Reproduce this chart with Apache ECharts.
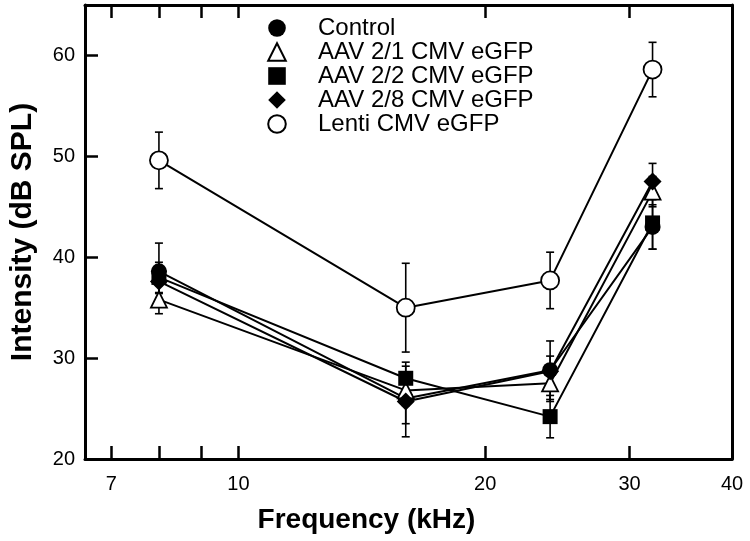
<!DOCTYPE html>
<html>
<head>
<meta charset="utf-8">
<script src="https://cdn.jsdelivr.net/npm/echarts@6/dist/echarts.min.js"></script>
<style>
html,body{margin:0;padding:0;background:#fff;}
#chart{width:750px;height:541px;}
</style>
</head>
<body>
<div id="chart"></div>
<script>
// ---- data ----
const frequencies = [8, 16, 24, 32];            // kHz
const xTickValues = [7, 8, 9, 10, 20, 30, 40];
const xLabelValues = [7, 10, 20, 30, 40];
const yLabelValues = [20, 30, 40, 50, 60];

const seriesNames = ['Control', 'AAV 2/1 CMV eGFP', 'AAV 2/2 CMV eGFP', 'AAV 2/8 CMV eGFP', 'Lenti CMV eGFP'];
const control = [38.6, 26.0, 28.8, 43.0];
const aav21   = [35.8, 26.8, 27.5, 46.5];
const aav22   = [38.0, 28.0, 24.2, 43.4];
const aav28   = [37.6, 25.7, 28.7, 47.5];
const lenti   = [49.6, 35.0, 37.7, 58.6];

const controlErr = [2.8, 2.5, 2.9, 2.2];
const aav21Err   = [1.4, 1.5, 1.8, 1.5];
const aav22Err   = [1.5, 1.6, 2.1, 2.6];
const aav28Err   = [1.2, 3.5, 1.5, 1.8];
const lentiErr   = [2.8, 4.4, 2.8, 2.7];

// ---- build ----
const lg = v => Math.log10(v);
const values = [control, aav21, aav22, aav28, lenti];
const errors = [controlErr, aav21Err, aav22Err, aav28Err, lentiErr];
const symbols = ['circle', 'triangle', 'rect', 'diamond', 'circle'];
const sizes = [16, 16, 15, 18, 18];
const fills = ['#000', '#fff', '#000', '#000', '#fff'];

const FONT = '"Liberation Sans", Arial, Helvetica, sans-serif';

function errRender(params, api) {
  const x = api.value(0), lo = api.value(1), hi = api.value(2);
  const a = api.coord([x, lo]), b = api.coord([x, hi]);
  const c = 4;
  const st = {stroke: '#000', lineWidth: 1.6};
  return {type: 'group', children: [
    {type: 'line', shape: {x1: b[0], y1: b[1], x2: a[0], y2: a[1]}, style: st},
    {type: 'line', shape: {x1: b[0]-c, y1: b[1], x2: b[0]+c, y2: b[1]}, style: st},
    {type: 'line', shape: {x1: a[0]-c, y1: a[1], x2: a[0]+c, y2: a[1]}, style: st}
  ]};
}

const series = [];
values.forEach((vals, i) => {
  series.push({
    name: 'err' + i,
    type: 'custom',
    renderItem: errRender,
    encode: {x: 0, y: [1, 2]},
    data: frequencies.map((f, j) => [lg(f), vals[j] - errors[i][j], vals[j] + errors[i][j]]),
    z: 1,
    silent: true
  });
});
values.forEach((vals, i) => {
  series.push({
    name: seriesNames[i],
    type: 'line',
    data: frequencies.map((f, j) => [lg(f), vals[j]]),
    symbol: symbols[i],
    symbolSize: sizes[i],
    showAllSymbol: true,
    lineStyle: {color: '#000', width: 2},
    itemStyle: {color: fills[i], borderColor: '#000', borderWidth: fills[i] === '#fff' ? 1.8 : 0},
    z: 3,
    animation: false
  });
});

const xCommon = {
  type: 'value',
  min: lg(6.5),
  max: lg(40),
  splitLine: {show: false},
  axisLine: {show: true, onZero: false, lineStyle: {color: '#000', width: 3}},
  axisTick: {show: true, inside: true, length: 13, lineStyle: {color: '#000', width: 2.5}, customValues: xTickValues.map(lg)}
};

const chart = echarts.init(document.getElementById('chart'), null, {renderer: 'canvas'});
chart.setOption({
  animation: false,
  backgroundColor: '#fff',
  grid: {left: 85, right: 18, top: 5, bottom: 82, containLabel: false},
  legend: {
    orient: 'vertical',
    left: 235,
    top: 11,
    itemWidth: 72,
    itemHeight: 22,
    itemGap: 0,
    data: seriesNames,
    lineStyle: {opacity: 0},
    textStyle: {fontFamily: FONT, fontSize: 24, color: '#000'},
    selectedMode: false
  },
  xAxis: [
    Object.assign({}, xCommon, {
      position: 'bottom',
      name: 'Frequency (kHz)',
      nameLocation: 'middle',
      nameGap: 47,
      nameTextStyle: {fontFamily: FONT, fontSize: 28, fontWeight: 'bold', color: '#000', padding: [0, 84, 0, 0]},
      axisLabel: {show: true, margin: 15, fontFamily: FONT, fontSize: 20, color: '#000',
        customValues: xLabelValues.map(lg),
        formatter: v => String(Math.round(Math.pow(10, v)))}
    }),
    Object.assign({}, xCommon, {
      position: 'top',
      axisLabel: {show: false}
    })
  ],
  yAxis: [
    {
      type: 'value',
      min: 20,
      max: 65,
      interval: 10,
      position: 'left',
      splitLine: {show: false},
      name: 'Intensity (dB SPL)',
      nameLocation: 'middle',
      nameGap: 47,
      nameTextStyle: {fontFamily: FONT, fontSize: 30, fontWeight: 'bold', color: '#000'},
      axisLine: {show: true, onZero: false, lineStyle: {color: '#000', width: 3}},
      axisTick: {show: true, inside: true, length: 13, lineStyle: {color: '#000', width: 2.5}, customValues: yLabelValues},
      axisLabel: {show: true, margin: 10, fontFamily: FONT, fontSize: 20, color: '#000', customValues: yLabelValues}
    },
    {
      type: 'value',
      min: 20,
      max: 65,
      position: 'right',
      splitLine: {show: false},
      axisLine: {show: true, onZero: false, lineStyle: {color: '#000', width: 3}},
      axisTick: {show: false},
      axisLabel: {show: false}
    }
  ],
  series: series
});
</script>
</body>
</html>
